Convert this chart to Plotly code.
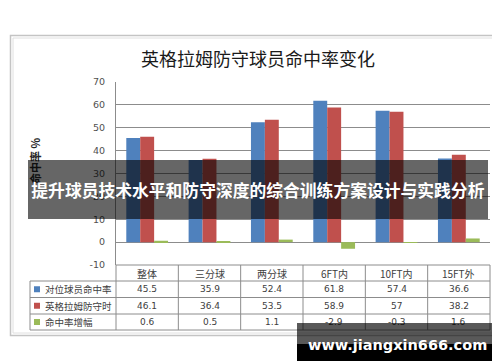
import plotly.graph_objects as go

# ---- data ----
categories = ["整体", "三分球", "两分球", "6FT内", "10FT内", "15FT外"]
series_names = ["对位球员命中率", "英格拉姆防守时", "命中率增幅"]
opp_rate = [45.5, 35.9, 52.4, 61.8, 57.4, 36.6]
ingram_def = [46.1, 36.4, 53.5, 58.9, 57, 38.2]
rate_change = [0.6, 0.5, 1.1, -2.9, -0.3, 1.6]
y_ticks = [-10, 0, 10, 20, 30, 40, 50, 60, 70]

colors = ["#4F81BD", "#C0504D", "#9BBB59"]
W, H = 500, 362


def xp(x):
    return x / W


def yp(y):
    return 1 - y / H


fig = go.Figure()
for name, vals, col in zip(series_names, [opp_rate, ingram_def, rate_change], colors):
    fig.add_trace(go.Bar(x=categories, y=vals, name=name, marker=dict(color=col, line=dict(width=0))))

PL, PR, PT, PB = 108, 482, 74, 257
fig.update_layout(
    width=W, height=H,
    margin=dict(l=0, r=0, t=0, b=0, pad=0),
    paper_bgcolor="white", plot_bgcolor="white",
    barmode="group", bargap=0.33, bargroupgap=0,
    showlegend=False,
    font=dict(family="DejaVu Sans", color="#404040"),
)
fig.update_xaxes(domain=[xp(PL), xp(PR)], showticklabels=False, showgrid=False, showline=False,
                 zeroline=False, range=[-0.5, 5.5], fixedrange=True, automargin=False)
fig.update_yaxes(domain=[yp(PB), yp(PT)], range=[-10, 70], tickvals=y_ticks,
                 ticktext=[str(v) for v in y_ticks], automargin=False,
                 showgrid=True, gridcolor="#8C8C8C", gridwidth=1,
                 zeroline=True, zerolinecolor="#8C8C8C", zerolinewidth=1,
                 showline=True, linecolor="#8C8C8C", linewidth=1,
                 ticks="", ticklabelstandoff=8,
                 tickfont=dict(family="DejaVu Sans", size=9.5, color="#505050"))

shapes = []
# outer chart frame
shapes.append(dict(type="rect", xref="paper", yref="paper", x0=xp(2.5), x1=xp(494.5), y0=yp(27.5), y1=yp(327.5),
                   line=dict(color="#C4C4C4", width=1.5), layer="below"))
shapes.append(dict(type="rect", xref="paper", yref="paper", x0=xp(5), x1=xp(492), y0=yp(30), y1=yp(325),
                   line=dict(color="#E0E0E0", width=1), layer="below"))

# data table grid
tcol = "#8C8C8C"
row_lines = [273, 289.5, 306, 322]
col_edges = [PL + k * (PR - PL) / 6 for k in range(7)]
shapes.append(dict(type="line", xref="paper", yref="paper", x0=xp(PL), x1=xp(PR), y0=yp(PB), y1=yp(PB),
                   line=dict(color=tcol, width=1)))
for yy in row_lines:
    shapes.append(dict(type="line", xref="paper", yref="paper", x0=xp(22), x1=xp(PR), y0=yp(yy), y1=yp(yy),
                       line=dict(color=tcol, width=1)))
for xx in col_edges:
    shapes.append(dict(type="line", xref="paper", yref="paper", x0=xp(xx), x1=xp(xx), y0=yp(PB), y1=yp(322),
                       line=dict(color=tcol, width=1)))
shapes.append(dict(type="line", xref="paper", yref="paper", x0=xp(22), x1=xp(22), y0=yp(273), y1=yp(322),
                   line=dict(color=tcol, width=1)))
row_centers = [(row_lines[i] + row_lines[i + 1]) / 2 for i in range(3)]
for rc, col in zip(row_centers, colors):
    shapes.append(dict(type="rect", xref="paper", yref="paper", x0=xp(26), x1=xp(32), y0=yp(rc - 3), y1=yp(rc + 3),
                       line=dict(width=0), fillcolor=col))

ann = []
# title
ann.append(dict(text="英格拉姆防守球员命中率变化", x=xp(250), y=yp(50), xref="paper", yref="paper",
                showarrow=False, xanchor="center", yanchor="middle",
                font=dict(family="Noto Sans CJK SC", size=18, color="#1a1a1a")))
# y axis title
ann.append(dict(text="<b>命中率 %</b>", x=xp(27), y=yp(153), xref="paper", yref="paper", textangle=-90,
                showarrow=False, xanchor="center", yanchor="middle",
                font=dict(family="Noto Sans CJK SC", size=11, color="#262626")))
# table header
for i, c in enumerate(categories):
    cx = (col_edges[i] + col_edges[i + 1]) / 2
    ann.append(dict(text=c, x=xp(cx), y=yp(265), xref="paper", yref="paper", showarrow=False,
                    xanchor="center", yanchor="middle",
                    font=dict(family="Noto Sans CJK SC", size=10, color="#404040")))
# table rows
for r, (name, vals) in enumerate(zip(series_names, [opp_rate, ingram_def, rate_change])):
    rc = row_centers[r]
    ann.append(dict(text=name, x=xp(35), y=yp(rc), xref="paper", yref="paper", showarrow=False,
                    xanchor="left", yanchor="middle",
                    font=dict(family="Noto Sans CJK SC", size=9.5, color="#404040")))
    for i, v in enumerate(vals):
        cx = (col_edges[i] + col_edges[i + 1]) / 2
        ann.append(dict(text=f"{v:g}", x=xp(cx), y=yp(rc), xref="paper", yref="paper", showarrow=False,
                        xanchor="center", yanchor="middle",
                        font=dict(family="DejaVu Sans", size=9, color="#404040")))

# overlay banner
ann.append(dict(text="<b>提升球员技术水平和防守深度的综合训练方案设计与实践分析</b>",
                x=xp(20), y=yp(152), xref="paper", yref="paper", showarrow=False,
                xanchor="left", yanchor="top", width=460, height=59, borderpad=0, borderwidth=0,
                bgcolor="rgba(0,0,0,0.6)", align="center", valign="middle",
                font=dict(family="Noto Sans CJK SC", size=16.8, color="white")))
# watermark
ann.append(dict(text=" ", x=xp(289), y=yp(315), xref="paper", yref="paper", showarrow=False,
                xanchor="left", yanchor="top", width=202, height=21, borderpad=0, borderwidth=0,
                bgcolor="rgba(0,0,0,0.65)"))
ann.append(dict(text=" ", x=xp(289), y=yp(336), xref="paper", yref="paper", showarrow=False,
                xanchor="left", yanchor="top", width=202, height=17, borderpad=0, borderwidth=0,
                bgcolor="black"))
ann.append(dict(text="<b>www.jiangxin666.com</b>", x=xp(389), y=yp(337), xref="paper", yref="paper",
                showarrow=False, xanchor="center", yanchor="middle",
                font=dict(family="DejaVu Sans", size=14.5, color="white")))

fig.update_layout(shapes=shapes, annotations=ann)
fig.write_html("out.html", config={"displayModeBar": False})
